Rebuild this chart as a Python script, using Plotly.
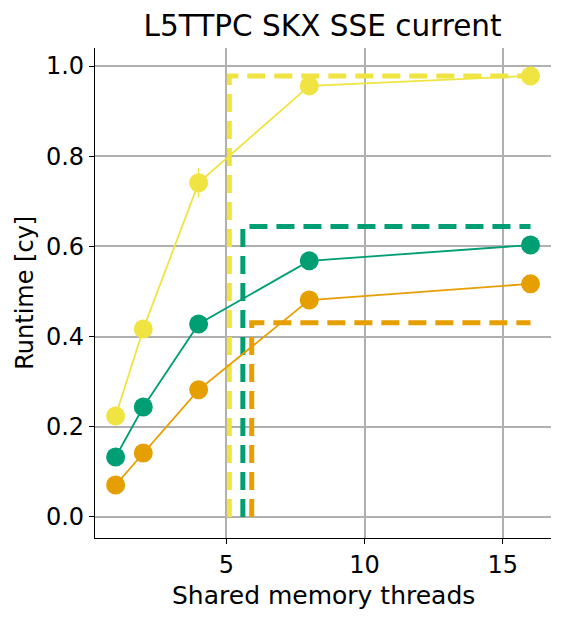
import plotly.graph_objects as go

threads = [1, 2, 4, 8, 16]
yellow_vals = [0.224, 0.417, 0.741, 0.956, 0.978]
yellow_err = [0.004, 0.005, 0.033, 0.004, 0.003]
green_vals = [0.133, 0.244, 0.428, 0.568, 0.603]
orange_vals = [0.071, 0.142, 0.282, 0.481, 0.517]

# roofline-style bounds: (vertical x position, horizontal level, end x)
yellow_bound = (5.11, 0.978, 16)
green_bound = (5.60, 0.644, 16)
orange_bound = (5.92, 0.431, 16)

YEL = "#f0e442"
GRN = "#009e73"
ORG = "#e69f00"

fig = go.Figure()

def add_series(vals, color, err=None):
    fig.add_trace(go.Scatter(
        x=threads, y=vals, mode="lines+markers",
        line=dict(color=color, width=1.8),
        marker=dict(color=color, size=19),
        error_y=dict(type="data", array=err, color=color, thickness=1.5, width=0) if err else None,
        showlegend=False,
    ))

def add_bound(b, color):
    xv, yv, xe = b
    fig.add_trace(go.Scatter(
        x=[xv, xv, xe], y=[0, yv, yv], mode="lines",
        line=dict(color=color, width=5, dash="18px,9px"),
        showlegend=False,
    ))

add_bound(yellow_bound, YEL)
add_bound(green_bound, GRN)
add_bound(orange_bound, ORG)
add_series(yellow_vals, YEL, yellow_err)
add_series(green_vals, GRN)
add_series(orange_vals, ORG)

fig.update_layout(
    width=566, height=619,
    margin=dict(l=95, r=15, t=48, b=81),
    paper_bgcolor="white", plot_bgcolor="white",
    font=dict(family="DejaVu Sans", color="black", size=24),
    title=dict(text="L5TTPC SKX SSE current", x=0.57, xanchor="center",
               y=0.958, yanchor="middle", font=dict(size=29.5)),
    xaxis=dict(
        range=[0.254, 16.74], tickvals=[5, 10, 15],
        showgrid=True, gridcolor="#b0b0b0", gridwidth=1.5,
        showline=True, linecolor="black", linewidth=1.3,
        ticks="outside", ticklen=5, tickcolor="black", zeroline=False,
        tickfont=dict(size=24),
    ),
    yaxis=dict(
        range=[-0.0466, 1.04], tickvals=[0, 0.2, 0.4, 0.6, 0.8, 1.0],
        tickformat=".1f",
        showgrid=True, gridcolor="#b0b0b0", gridwidth=1.5,
        showline=True, linecolor="black", linewidth=1.3,
        ticks="outside", ticklen=5, tickcolor="black", zeroline=False,
        tickfont=dict(size=24),
    ),
    annotations=[
        dict(text="Shared memory threads", xref="paper", yref="paper",
             x=0.5, y=-0.118, xanchor="center", yanchor="middle",
             showarrow=False, font=dict(size=25)),
        dict(text="Runtime [cy]", xref="paper", yref="paper",
             x=-0.154, y=0.5, xanchor="center", yanchor="middle",
             textangle=-90, showarrow=False, font=dict(size=24)),
    ],
)

fig.write_html("out.html")
